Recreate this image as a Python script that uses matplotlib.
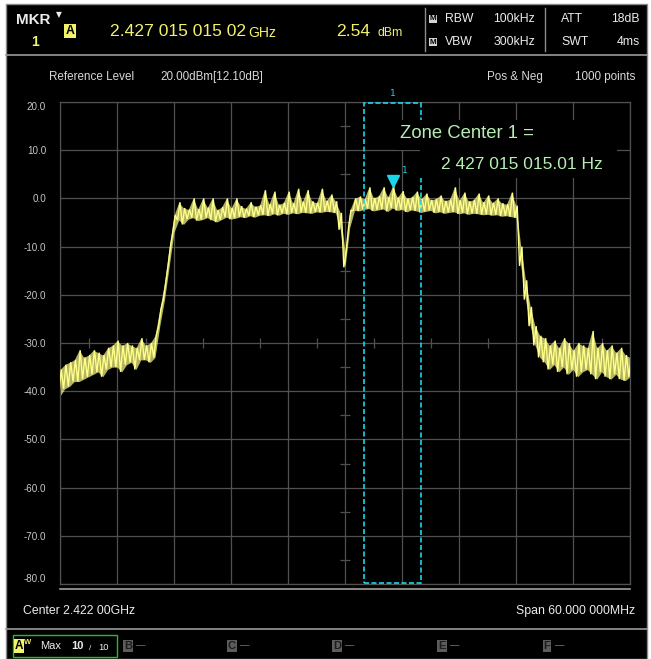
import numpy as np
import matplotlib
matplotlib.use("Agg")
import matplotlib.pyplot as plt
from matplotlib import font_manager
from matplotlib.patches import Rectangle
from matplotlib.lines import Line2D
from matplotlib.transforms import offset_copy

# --------------------------
# Sweep settings (from the screen)
# --------------------------
center_ghz = 2.422
span_mhz = 60.0
ref_level = 20.0
db_per_div = 10.0
n_div = 10

marker_freq_ghz = 2.42701501502
marker_level_dbm = 2.54
zone_center_ghz = 2.42701501501
zone_span_mhz = 6.0

# Pos & Neg detector envelope, one pair every 0.5 MHz
trace_pos = [
    -35.5, -34.5, -34.0, -33.5, -31.5, -33.0, -32.5, -31.5, -32.0, -32.5,
    -31.0, -30.5, -29.5, -30.5, -30.0, -30.5, -31.0, -29.0, -30.5, -30.0,
    -28.5, -23.0, -17.5, -10.0, -3.5,
    -0.8, -2.0, -2.3, 0.0, -2.2, 0.0, -1.9, 0.0, -2.4, -1.8,
    0.0, -2.0, 0.0, -1.6, -2.1, -0.8, -1.7, -1.4, 1.7, -1.2,
    1.4, -1.3, -0.9, 1.4, -1.0, 2.0, -0.7, 1.7, -0.6, -0.9,
    2.0, -0.5, 0.8, -0.6,
    -3.0, -11.0, -2.5,
    0.0, 0.4, -0.2, 2.3, 0.1, 0.5, 2.3, 0.3, 2.54, 0.2,
    1.5, 0.0, 0.3, 1.4, -0.1, 1.0, -0.3, -0.1, 0.6, -0.5,
    -0.2, 2.3, -0.4, 1.2, -0.6, -0.3, 1.0, -0.8, 0.6, -0.9,
    0.0, -1.0, -1.2, 1.2, -1.5,
    -10.0, -17.0, -22.5, -26.5, -28.5,
    -29.0, -30.5, -29.5, -31.0, -29.0, -30.0, -31.5, -30.0, -30.5, -31.0,
    -27.5, -31.0, -30.0, -31.5, -30.5, -32.0, -31.0, -32.5, -33.0,
]
trace_neg = [
    -41.0, -39.5, -39.0, -38.0, -38.0, -37.5, -37.0, -36.5, -36.0, -37.0,
    -35.5, -35.0, -35.0, -36.0, -34.5, -34.0, -35.5, -33.5, -33.5, -34.0,
    -33.0, -26.5, -21.0, -14.0, -7.0,
    -4.5, -5.4, -4.3, -4.0, -4.6, -4.4, -4.0, -4.5, -4.9, -4.4,
    -3.9, -4.3, -4.1, -3.8, -4.0, -3.6, -3.9, -3.5, -3.4, -3.6,
    -3.2, -3.5, -3.1, -3.3, -3.0, -3.2, -2.9, -3.0, -3.1, -2.8,
    -2.9, -2.7, -2.8, -3.0,
    -6.5, -14.3, -6.0,
    -2.5, -2.6, -2.3, -2.1, -2.6, -2.4, -2.2, -2.7, -2.0, -2.5,
    -2.3, -2.8, -2.4, -2.6, -2.9, -2.7, -2.5, -3.0, -2.8, -3.1,
    -2.9, -2.8, -3.2, -3.0, -3.3, -3.1, -3.2, -3.4, -3.3, -3.5,
    -3.4, -3.7, -3.6, -3.8, -4.0,
    -14.0, -21.0, -26.5, -30.5, -33.0,
    -34.0, -35.5, -34.5, -36.0, -35.0, -36.5, -35.5, -37.0, -36.0, -35.5,
    -36.5, -37.5, -36.0, -37.0, -37.5, -36.5, -37.5, -37.8, -37.0,
]

# --------------------------
# Colours / fonts
# --------------------------
W, H = 651, 659
TXT = "#ececec"
GREY_TXT = "#c8c8c8"
YELLOW = "#f2f26c"
TRACE = "#ffff8a"
CYAN = "#1ad6e8"
ZONE_TXT = "#b6eeb2"
GRID = "#505050"

names = {f.name for f in font_manager.fontManager.ttflist}
if "Liberation Sans Narrow" in names:
    UI_FONT, K = "Liberation Sans Narrow", 1.0
else:
    UI_FONT, K = "Liberation Sans", 0.84


def fx(x):
    return x / W


def fy(y):
    return 1 - y / H


fig = plt.figure(figsize=(W / 100, H / 100), dpi=100, facecolor="white")


def label(x, y, s, size, color=TXT, ha="left", va="center", **kw):
    kw.setdefault("family", UI_FONT)
    return fig.text(fx(x), fy(y), s, fontsize=size * K, color=color,
                    ha=ha, va=va, **kw)


def hline(x0, x1, y, color="#8c8c8c", lw=1.0):
    fig.add_artist(Line2D([fx(x0), fx(x1)], [fy(y), fy(y)], color=color, lw=lw))


def vline(x, y0, y1, color="#8c8c8c", lw=1.0):
    fig.add_artist(Line2D([fx(x), fx(x)], [fy(y0), fy(y1)], color=color, lw=lw))


# black instrument screen with grey frame
fig.add_artist(Rectangle((fx(6), 0), fx(647) - fx(6), fy(4), facecolor="black",
                         edgecolor="#8a8a8a", lw=1.0, zorder=-5))

# --------------------------
# Header
# --------------------------
hline(6, 647, 55, color="#9a9a9a", lw=1.2)
vline(425, 8, 51)
vline(545, 8, 51)

label(16, 20, "MKR", 13, weight="bold")
label(56, 15, "\u25bc", 5.5 / K, family="DejaVu Sans")
label(35, 42, "1", 12, color=YELLOW, ha="center", weight="bold")
label(70, 31, "A", 10.5, color="black", ha="center", weight="bold",
      bbox=dict(boxstyle="square,pad=0.1", fc=YELLOW, ec="none"))
label(110, 31, "2.427 015 015 02", 15, color=YELLOW)
label(248, 33, "GHz", 12, color=YELLOW)
label(336, 31, "2.54", 15, color=YELLOW)
label(377, 33, "dBm", 10.5, color=YELLOW)

for yy, name, val, name2, val2 in [(19, "RBW", "100kHz", "ATT", "18dB"),
                                    (42, "VBW", "300kHz", "SWT", "4ms")]:
    label(433, yy, "M", 7, color="black", ha="center", weight="bold",
          bbox=dict(boxstyle="square,pad=0.1", fc="#d4d4d4", ec="none"))
    label(445, yy, name, 10.5)
    label(535, yy, val, 10.5, ha="right")
    label(561, yy, name2, 10.5)
    label(640, yy, val2, 10.5, ha="right")

label(49, 77, "Reference Level", 10, color="#d8d8d8")
label(160, 77, "20.00dBm[12.10dB]", 10, color="#d8d8d8")
label(487, 77, "Pos & Neg", 10, color="#d8d8d8")
label(635, 77, "1000 points", 10, color="#d8d8d8", ha="right")

# --------------------------
# Graticule
# --------------------------
ax = fig.add_axes([fx(60), fy(584), (630 - 60) / W, (584 - 102) / H])
ax.set_facecolor("black")

f_start = center_ghz - span_mhz / 2000
f_stop = center_ghz + span_mhz / 2000
y_bot = ref_level - n_div * db_per_div
ax.set_xlim(f_start, f_stop)
ax.set_ylim(y_bot, ref_level)

xdiv = np.linspace(f_start, f_stop, n_div + 1)
ydiv = np.linspace(y_bot, ref_level, n_div + 1)
ax.set_xticks(xdiv)
ax.set_yticks(ydiv)
ax.set_yticklabels([f"{v:.1f}" for v in ydiv])
ax.tick_params(length=0, labelbottom=False, pad=10, labelsize=8.5 * K,
               labelcolor=GREY_TXT)
for t in ax.get_yticklabels():
    t.set_family(UI_FONT)
ylabels = ax.get_yticklabels()
ylabels[0].set_va("bottom")
ylabels[-1].set_va("top")
ax.grid(True, color=GRID, lw=0.9)
for s in ax.spines.values():
    s.set_color(GRID)
    s.set_linewidth(0.9)

# small ticks on the centre cross
mid_y = (ref_level + y_bot) / 2
half_x = (xdiv[:-1] + xdiv[1:]) / 2
half_y = (ydiv[:-1] + ydiv[1:]) / 2
ax.plot(half_x, np.full_like(half_x, mid_y), ls="none", marker="|", ms=7,
        mew=0.9, color=GRID, zorder=1)
ax.plot(np.full_like(half_y, center_ghz), half_y, ls="none", marker="_", ms=7,
        mew=0.9, color=GRID, zorder=1)

# --------------------------
# Trace: pos/neg band plus the zigzag between them
# --------------------------
freqs = np.linspace(f_start, f_stop, len(trace_pos))
step = freqs[1] - freqs[0]
xs = np.empty(2 * len(freqs))
ys = np.empty(2 * len(freqs))
xs[0::2] = freqs - step / 4
xs[1::2] = freqs + step / 4
ys[0::2] = trace_neg
ys[1::2] = trace_pos
ax.fill_between(freqs, trace_neg, trace_pos, color=TRACE, alpha=0.7,
                lw=0, zorder=2)
ax.plot(xs, ys, color=TRACE, lw=1.0, zorder=3, solid_joinstyle="miter")

# zone span box
zw = zone_span_mhz / 1000
ax.add_patch(Rectangle((zone_center_ghz - zw / 2, y_bot + 0.3), zw,
                       ref_level - y_bot - 0.5, fill=False, ec=CYAN, lw=1.2,
                       ls=(0, (3, 1.5)), zorder=4))
ax.annotate("1", (zone_center_ghz, ref_level), xytext=(0, 3),
            textcoords="offset points", ha="center", va="bottom",
            color=CYAN, fontsize=6.5, annotation_clip=False)

# marker
mk_tr = offset_copy(ax.transData, fig=fig, y=5, units="dots")
ax.plot(marker_freq_ghz, marker_level_dbm, marker="v", ms=8, color=CYAN,
        transform=mk_tr, zorder=5, clip_on=False)
ax.annotate("1", (marker_freq_ghz, marker_level_dbm), xytext=(7, 8),
            textcoords="offset points", ha="left", va="bottom",
            color=CYAN, fontsize=6.5)

# zone readout, with black backing over the grid
fig.add_artist(Rectangle((fx(397), fy(150)), fx(617) - fx(397), fy(120) - fy(150),
                         facecolor="black", edgecolor="none", zorder=2))
fig.add_artist(Rectangle((fx(420), fy(178)), fx(617) - fx(420), fy(150) - fy(178),
                         facecolor="black", edgecolor="none", zorder=2))
fig.text(fx(400), fy(134), "Zone Center 1 =", fontsize=13.3, color=ZONE_TXT,
         family="Liberation Sans", ha="left", va="center", zorder=3)
fig.text(fx(441), fy(165), "2 427 015 015.01 Hz", fontsize=12.5,
         color=ZONE_TXT, family="Liberation Sans", ha="left", va="center",
         zorder=3)

# --------------------------
# Footer
# --------------------------
hline(60, 630, 589, color="#a0a0a0", lw=1.2)
label(23, 611, "Center 2.422 00GHz", 10.5)
label(635, 611, "Span 60.000 000MHz", 10.5, ha="right")
hline(6, 647, 629, color="#9a9a9a", lw=1.2)

fig.add_artist(Rectangle((fx(13), fy(657)), fx(117) - fx(13), fy(635) - fy(657),
                         fill=False, ec="#22c022", lw=1.0))
label(19, 646, "A", 10, color="black", ha="center", weight="bold",
      bbox=dict(boxstyle="square,pad=0.1", fc=YELLOW, ec="none"))
label(28, 643, "W", 6.5, color=YELLOW, ha="center", weight="bold")
label(40, 646, "Max", 9.5)
label(71, 646, "10", 9.5, weight="bold")
label(89, 649, "/", 7)
label(98, 648, "10", 8)
for xb, letter in zip([128, 232, 337, 442, 547], "BCDEF"):
    label(xb, 646, letter, 9.5, color="#1c1c1c", ha="center", weight="bold",
          bbox=dict(boxstyle="square,pad=0.1", fc="#5c5c5c", ec="none"))
    label(xb + 8, 646, "\u2014", 8, color="#8c8c8c")

fig.savefig("out.png", dpi=100, facecolor="white")
